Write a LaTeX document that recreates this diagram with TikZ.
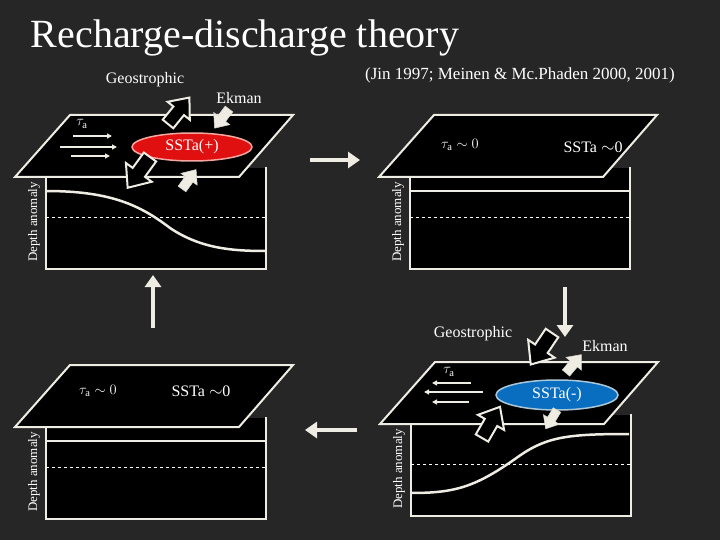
\documentclass[tikz,border=0pt]{standalone}
\usepackage{fontspec}
\setmainfont{Liberation Serif}
\usetikzlibrary{arrows.meta,shapes.geometric}
\definecolor{bg}{HTML}{262626}
\definecolor{cr}{HTML}{EFEDE3}
\definecolor{sred}{HTML}{E01010}
\definecolor{sblue}{HTML}{0A6EC0}
\newcommand\blockarrow[5]{%
\begin{scope}[shift={(#1,#2)},rotate=-#3]
\draw[#5] (0,{-0.2*#4}) -- ({0.5*#4},{-0.2*#4}) -- ({0.5*#4},{-0.42*#4}) -- (#4,0) -- ({0.5*#4},{0.42*#4}) -- ({0.5*#4},{0.2*#4}) -- (0,{0.2*#4}) -- cycle;
\end{scope}}
\newcommand\panel[3]{% dx, dy, solid curve
\begin{scope}[shift={(#1,#2)}]
\fill[black] (46,168) rectangle (266,269);
\draw[edge] (266,167) -- (266,269) -- (46,269) -- (46,177);
\draw[white,dashed,line width=0.8pt] (46,217) -- (266,217);
\draw[edge,line width=2.5pt] #3;
\draw[edge,fill=black] (70,115) -- (293,115) -- (239,177) -- (15,177) -- cycle;
\node[lab,rotate=90,font=\fontsize{13}{13}\selectfont] at (34,222) {Depth anomaly};
\end{scope}}
\tikzset{edge/.style={draw=cr,line width=2pt,line join=miter},
lab/.style={text=white,inner sep=0pt},
openarr/.style={draw=cr,fill=black,line width=2pt},
whitearr/.style={draw=cr!80!gray,fill=cr,line width=0.5pt},
bigarr/.style={cr,line width=4pt,-{Triangle[length=12pt,width=16pt]}},
tau/.style={cr,line width=1.5pt,-{Triangle[length=5pt,width=5pt]}}}
\begin{document}
\begin{tikzpicture}[x=1pt,y=-1pt]
\fill[bg] (0,0) rectangle (720,540);
\useasboundingbox (0,0) rectangle (720,540);
\node[lab,font=\fontsize{40}{40}\selectfont] (title) at (245,38) {Recharge-discharge theory};
\node[lab,font=\fontsize{17}{17}\selectfont] (cite) at (520,75) {(Jin 1997; Meinen \& Mc.Phaden 2000, 2001)};
% panel 1
\panel{0}{0}{(46,191) .. controls (110,191) and (140,205) .. (170,228) .. controls (200,248) and (230,251) .. (266,251)}
\node[lab,font=\fontsize{16}{16}\selectfont] (geo1) at (145,80) {Geostrophic};
\node[lab,font=\fontsize{16}{16}\selectfont] (ek1) at (239,98) {Ekman};
\node[lab,font=\fontsize{15}{15}\selectfont] (t1) at (82,124) {$\tau_{\rm a}$};
\coordinate (a1s) at (73,136); \coordinate (a1e) at (112,136);
\coordinate (a2s) at (60,147); \coordinate (a2e) at (117,147);
\coordinate (a3s) at (71,156); \coordinate (a3e) at (110,156);
\draw[tau] (a1s) -- (a1e); \draw[tau] (a2s) -- (a2e); \draw[tau] (a3s) -- (a3e);
\node[ellipse,draw=cr!70!red,fill=sred,line width=1.5pt,minimum width=120pt,minimum height=28pt,text=white,font=\fontsize{16}{16}\selectfont,inner sep=0pt] (e1) at (192,147) {SSTa(+)};
\blockarrow{168}{124}{-51}{34}{openarr}
\blockarrow{229}{109}{127}{24}{whitearr}
\blockarrow{150}{157}{126}{38}{openarr}
\blockarrow{182}{189}{-54}{24}{whitearr}
% panel 2
\panel{364}{0}{(46,191) -- (266,191)}
\node[lab,font=\fontsize{15}{15}\selectfont] (t2) at (460,145) {$\tau_{\rm a}\sim0$};
\node[lab,font=\fontsize{16}{16}\selectfont] (s2) at (593,147) {SSTa $\sim$0};
% panel 3
\panel{0}{250}{(46,191) -- (266,191)}
\node[lab,font=\fontsize{15}{15}\selectfont] (t3) at (98,391) {$\tau_{\rm a}\sim0$};
\node[lab,font=\fontsize{16}{16}\selectfont] (s3) at (201,391) {SSTa $\sim$0};
% panel 4
\panel{365}{247}{(46,246) .. controls (90,246) and (110,240) .. (150,212) .. controls (180,190) and (200,187) .. (264,187)}
\node[lab,font=\fontsize{16}{16}\selectfont] (geo4) at (473,334) {Geostrophic};
\node[lab,font=\fontsize{16}{16}\selectfont] (ek4) at (605,346) {Ekman};
\node[lab,font=\fontsize{15}{15}\selectfont] (t4) at (449,372) {$\tau_{\rm a}$};
\coordinate (b1s) at (471,383); \coordinate (b1e) at (432,383);
\coordinate (b2s) at (483,392); \coordinate (b2e) at (424,392);
\coordinate (b3s) at (469,402); \coordinate (b3e) at (432,402);
\draw[tau] (b1s) -- (b1e); \draw[tau] (b2s) -- (b2e); \draw[tau] (b3s) -- (b3e);
\node[ellipse,draw=cr!70!sblue,fill=sblue,line width=1.5pt,minimum width=122pt,minimum height=30pt,text=white,font=\fontsize{16}{16}\selectfont,inner sep=0pt] (e4) at (557,395) {SSTa(-)};
\blockarrow{552}{333}{124}{38}{openarr}
\blockarrow{566}{373}{-50}{24}{whitearr}
\blockarrow{482}{438}{-60}{36}{openarr}
\blockarrow{557}{410}{121}{22}{whitearr}
% big arrows
\coordinate (r1) at (310,160); \coordinate (r2) at (360,160);
\coordinate (d1) at (565,287); \coordinate (d2) at (565,337);
\coordinate (l1) at (357,430); \coordinate (l2) at (305,430);
\coordinate (u1) at (153,328); \coordinate (u2) at (153,275);
\draw[bigarr] (r1) -- (r2);
\draw[bigarr] (d1) -- (d2);
\draw[bigarr] (l1) -- (l2);
\draw[bigarr] (u1) -- (u2);
\end{tikzpicture}
\end{document}
